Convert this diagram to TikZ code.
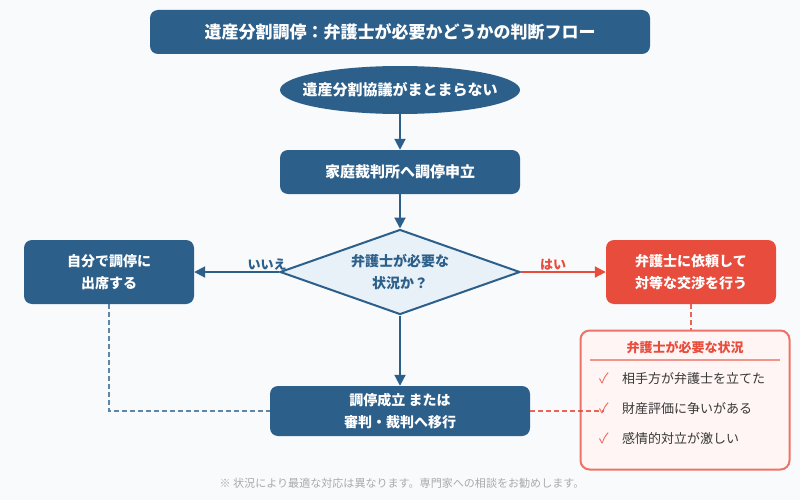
\documentclass[tikz,border=0pt]{standalone}
\usepackage{fontspec}
\setmainfont{Noto Sans CJK JP}
\usetikzlibrary{shapes.geometric,arrows.meta}
\definecolor{navy}{HTML}{2C5F8A}
\definecolor{redc}{HTML}{E74C3C}
\definecolor{pale}{HTML}{FFF5F4}
\definecolor{bg}{HTML}{F8FAFC}
\definecolor{dia}{HTML}{E8F0F8}
\definecolor{notec}{HTML}{AAAAAA}
\tikzset{x=1pt,y=-1pt,
 box/.style={draw=none,fill=navy,rounded corners=8pt,text=white,font=\bfseries\fontsize{14}{22}\selectfont,align=center,inner sep=0pt},
 flow/.style={draw=navy,line width=2pt,-{Triangle[length=11pt,width=11pt]}},
 dashn/.style={draw=navy,draw opacity=.75,line width=1.5pt,dash pattern=on 5pt off 3pt},
 dashr/.style={draw=redc,draw opacity=.85,line width=1.7pt,dash pattern=on 5pt off 3pt},
 lab/.style={font=\bfseries\fontsize{13}{15}\selectfont,inner sep=0pt},
 item/.style={font=\fontsize{13}{15}\selectfont,text=black!78,anchor=west,inner sep=0pt},
 chk/.style={font=\fontsize{14}{15}\selectfont,text=redc!85!white,inner sep=0pt}
}
\begin{document}
\begin{tikzpicture}
\useasboundingbox (0,0) rectangle (800,500);
\fill[bg] (0,0) rectangle (800,500);
\node[box,minimum width=500pt,minimum height=44pt,font=\bfseries\fontsize{17}{20}\selectfont] (title) at (400,32) {遺産分割調停：弁護士が必要かどうかの判断フロー};
\node[ellipse,fill=navy,minimum width=240pt,minimum height=48pt,inner sep=0pt] (start) at (400,90) {};
\node[font=\bfseries\fontsize{15}{20}\selectfont,text=white,inner sep=0pt] (startt) at (400,90) {遺産分割協議がまとまらない};
\node[box,minimum width=240pt,minimum height=44pt,font=\bfseries\fontsize{15}{20}\selectfont] (apply) at (400,172) {家庭裁判所へ調停申立};
\node[diamond,aspect=2.83,draw=navy,line width=2pt,fill=dia,minimum width=240pt,minimum height=85pt,inner sep=0pt] (q) at (400,272) {};
\node[font=\bfseries\fontsize{14}{22}\selectfont,text=navy,align=center,inner sep=0pt] (qt) at (400,272) {弁護士が必要な\\状況か？};
\node[box,minimum width=170pt,minimum height=64pt] (self) at (109,272) {自分で調停に\\出席する};
\node[box,fill=redc,minimum width=170pt,minimum height=64pt] (hire) at (691,272) {弁護士に依頼して\\対等な交渉を行う};
\node[box,minimum width=260pt,minimum height=50pt] (end) at (400,411) {調停成立 または\\審判・裁判へ移行};
\node[draw=redc!78!white,line width=2pt,fill=pale,rounded corners=9pt,minimum width=209pt,minimum height=139pt,inner sep=0pt] (panel) at (685,400) {};
\node[lab,text=redc] (ptitle) at (685,347) {弁護士が必要な状況};
\coordinate (r1) at (590,360); \coordinate (r2) at (780,360);
\draw[draw=redc!60!white,line width=1.5pt] (r1) -- (r2);
\draw[flow] (start) -- (apply);
\draw[flow] (apply) -- (q);
\draw[flow] (q) -- (end);
\draw[flow] (q.west) -- (self.east);
\draw[flow,draw=redc] (q.east) -- (hire.west);
\node[lab,text=navy] (no) at (267,265) {いいえ};
\node[lab,text=redc] (yes) at (553,265) {はい};
\draw[dashr] (hire.south) -- (panel.north -| hire.south);
\draw[dashn] (self.south) |- (end.west);
\coordinate (dashend) at (604,411);
\draw[dashr] (end.east) -- (dashend);
\node[chk] (c1) at (604,378) {✓};
\node[chk] (c2) at (604,408) {✓};
\node[chk] (c3) at (604,438) {✓};
\node[item] (i1) at (622,379) {相手方が弁護士を立てた};
\node[item] (i2) at (622,409) {財産評価に争いがある};
\node[item] (i3) at (622,439) {感情的対立が激しい};
\node[font=\fontsize{11.05}{14}\selectfont,text=notec,inner sep=0pt] (note) at (402,483) {※ 状況により最適な対応は異なります。専門家への相談をお勧めします。};
\end{tikzpicture}
\end{document}
